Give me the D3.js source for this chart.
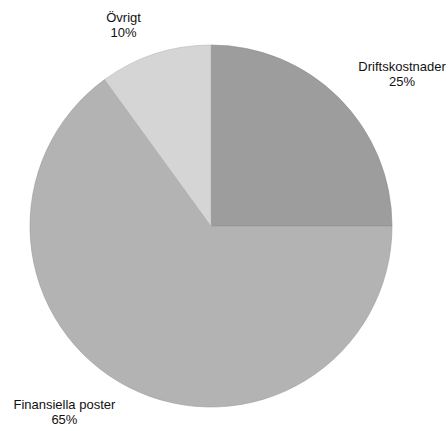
<!DOCTYPE html>
<html>
<head>
<meta charset="UTF-8">
<title>Kostnader</title>
<script src="https://d3js.org/d3.v7.min.js"></script>
<style>
  body { margin: 0; background: #fff; }
  text { font-family: "Liberation Sans", Arial, sans-serif; font-size: 13px; fill: #111; }
</style>
</head>
<body>
<div id="chart"></div>
<script>
// data
var categories = ["Driftskostnader", "Finansiella poster", "Övrigt"];
var shares = [25, 65, 10];
var colors = ["#9d9d9d", "#b3b3b3", "#d5d5d5"];

var width = 448, height = 431;
var cx = 211, cy = 226, radius = 181;

// label nudges from the label arc (layout only)
var nudge = {
  "Driftskostnader": [39, 0],
  "Finansiella poster": [-49, -6],
  "Övrigt": [-21, 3.5]
};

var svg = d3.select("#chart")
  .append("svg")
    .attr("width", width)
    .attr("height", height)
  .append("g")
    .attr("transform", "translate(" + cx + "," + cy + ")");

var data = categories.map(function(c, i) { return {name: c, value: shares[i], color: colors[i]}; });

var pie = d3.pie()
  .sort(null)
  .value(function(d) { return d.value; });

var arc = d3.arc().innerRadius(0).outerRadius(radius);
var labelArc = d3.arc().innerRadius(215).outerRadius(215);

svg.selectAll("path")
  .data(pie(data))
  .enter().append("path")
    .attr("d", arc)
    .attr("fill", function(d) { return d.data.color; })
    .attr("stroke", function(d) { return d3.color(d.data.color).darker(0.4); })
    .attr("stroke-width", 0.6);

var labels = svg.selectAll(".lbl")
  .data(pie(data))
  .enter().append("text")
    .attr("class", "lbl")
    .attr("text-anchor", "middle")
    .attr("transform", function(d) {
      var c = labelArc.centroid(d), n = nudge[d.data.name];
      return "translate(" + (c[0] + n[0]) + "," + (c[1] + n[1]) + ")";
    });

labels.append("tspan")
  .attr("x", 0).attr("y", -3)
  .text(function(d) { return d.data.name; });
labels.append("tspan")
  .attr("x", 0).attr("y", 12)
  .text(function(d) { return d.data.value + "%"; });
</script>
</body>
</html>
